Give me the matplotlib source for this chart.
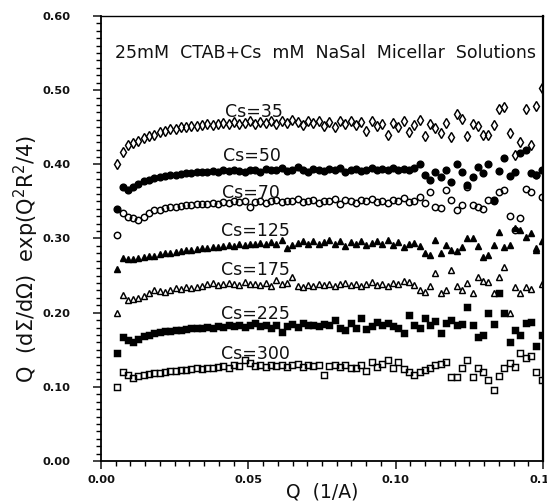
import numpy as np
import matplotlib
matplotlib.use('Agg')
import matplotlib.pyplot as plt
from matplotlib.ticker import MultipleLocator, FormatStrFormatter

# Q grid (1/A)
Q = [0.0055, 0.0073, 0.0091, 0.0109, 0.0127, 0.0145, 0.0163, 0.0181, 0.0199, 0.0217,
     0.0235, 0.0253, 0.0271, 0.0289, 0.0307, 0.0325, 0.0343, 0.0361, 0.0379, 0.0397,
     0.0415, 0.0433, 0.0451, 0.0469, 0.0487, 0.0505, 0.0523, 0.0541, 0.0559, 0.0577,
     0.0595, 0.0613, 0.0631, 0.0649, 0.0667, 0.0685, 0.0703, 0.0721, 0.0739, 0.0757,
     0.0775, 0.0793, 0.0811, 0.0829, 0.0847, 0.0865, 0.0883, 0.0901, 0.0919, 0.0937,
     0.0955, 0.0973, 0.0991, 0.1009, 0.1027, 0.1045, 0.1063, 0.1081, 0.1099, 0.1117,
     0.1135, 0.1153, 0.1171, 0.1189, 0.1207, 0.1225, 0.1243, 0.1261, 0.1279, 0.1297,
     0.1315, 0.1333, 0.1351, 0.1369, 0.1387, 0.1405, 0.1423, 0.1441, 0.1459, 0.1477,
     0.1495]

cs35 = [0.400, 0.416, 0.426, 0.429, 0.432, 0.435, 0.438, 0.440, 0.443, 0.445,
        0.447, 0.448, 0.450, 0.451, 0.452, 0.452, 0.453, 0.454, 0.453, 0.455,
        0.456, 0.455, 0.457, 0.454, 0.456, 0.458, 0.455, 0.457, 0.456, 0.459,
        0.455, 0.458, 0.456, 0.460, 0.457, 0.453, 0.459, 0.456, 0.458, 0.452,
        0.457, 0.450, 0.458, 0.455, 0.459, 0.453, 0.457, 0.445, 0.458, 0.452,
        0.455, 0.440, 0.456, 0.450, 0.458, 0.444, 0.453, 0.460, 0.438, 0.455,
        0.449, 0.442, 0.456, 0.437, 0.468, 0.461, 0.438, 0.455, 0.452, 0.440,
        0.439, 0.453, 0.474, 0.477, 0.442, 0.412, 0.430, 0.474, 0.426, 0.478,
        0.503]

cs50 = [0.340, 0.369, 0.365, 0.370, 0.374, 0.377, 0.379, 0.381, 0.383, 0.384,
        0.385, 0.386, 0.387, 0.388, 0.388, 0.389, 0.390, 0.390, 0.391, 0.390,
        0.392, 0.391, 0.393, 0.391, 0.390, 0.393, 0.392, 0.389, 0.394, 0.393,
        0.392, 0.395, 0.391, 0.393, 0.396, 0.392, 0.390, 0.394, 0.393, 0.391,
        0.394, 0.392, 0.395, 0.390, 0.393, 0.394, 0.391, 0.393, 0.395, 0.392,
        0.394, 0.393, 0.395, 0.392, 0.394, 0.393, 0.395, 0.400, 0.385, 0.379,
        0.390, 0.383, 0.392, 0.376, 0.400, 0.390, 0.372, 0.383, 0.396, 0.388,
        0.400, 0.352, 0.391, 0.408, 0.384, 0.390, 0.415, 0.419, 0.388, 0.386,
        0.392]

cs70 = [0.305, 0.334, 0.329, 0.327, 0.325, 0.329, 0.334, 0.338, 0.339, 0.341,
        0.342, 0.343, 0.344, 0.345, 0.345, 0.346, 0.347, 0.346, 0.348, 0.347,
        0.349, 0.348, 0.350, 0.349, 0.351, 0.343, 0.349, 0.350, 0.348, 0.351,
        0.352, 0.349, 0.351, 0.350, 0.353, 0.349, 0.350, 0.352, 0.348, 0.351,
        0.350, 0.353, 0.346, 0.352, 0.350, 0.348, 0.352, 0.350, 0.353, 0.349,
        0.351, 0.348, 0.352, 0.350, 0.354, 0.349, 0.351, 0.356, 0.348, 0.363,
        0.342, 0.341, 0.365, 0.352, 0.338, 0.345, 0.369, 0.345, 0.343, 0.340,
        0.352, 0.350, 0.363, 0.365, 0.331, 0.311, 0.327, 0.367, 0.363, 0.385,
        0.356]

cs125 = [0.259, 0.274, 0.272, 0.273, 0.274, 0.275, 0.276, 0.277, 0.279, 0.280,
         0.281, 0.282, 0.283, 0.284, 0.285, 0.286, 0.287, 0.287, 0.288, 0.289,
         0.290, 0.291, 0.290, 0.292, 0.291, 0.293, 0.292, 0.294, 0.293, 0.295,
         0.293, 0.298, 0.287, 0.291, 0.294, 0.296, 0.293, 0.297, 0.292, 0.295,
         0.298, 0.293, 0.296, 0.290, 0.295, 0.292, 0.297, 0.291, 0.294, 0.296,
         0.293, 0.298, 0.291, 0.295, 0.289, 0.292, 0.294, 0.290, 0.280, 0.278,
         0.298, 0.280, 0.291, 0.284, 0.283, 0.289, 0.300, 0.300, 0.290, 0.275,
         0.278, 0.291, 0.309, 0.288, 0.291, 0.314, 0.312, 0.302, 0.308, 0.285,
         0.296]

cs175 = [0.200, 0.224, 0.217, 0.219, 0.220, 0.222, 0.226, 0.230, 0.229, 0.228,
         0.231, 0.233, 0.232, 0.234, 0.233, 0.235, 0.236, 0.238, 0.240, 0.237,
         0.238, 0.240, 0.239, 0.237, 0.241, 0.239, 0.238, 0.237, 0.240, 0.236,
         0.244, 0.238, 0.240, 0.248, 0.236, 0.235, 0.237, 0.236, 0.238, 0.237,
         0.239, 0.236, 0.238, 0.240, 0.237, 0.239, 0.236, 0.238, 0.241, 0.237,
         0.239, 0.236, 0.240, 0.238, 0.243, 0.241, 0.237, 0.230, 0.228, 0.236,
         0.253, 0.226, 0.230, 0.257, 0.236, 0.231, 0.240, 0.226, 0.248, 0.243,
         0.242, 0.226, 0.248, 0.261, 0.200, 0.234, 0.227, 0.235, 0.232, 0.287,
         0.238]

cs225 = [0.146, 0.167, 0.163, 0.160, 0.164, 0.168, 0.170, 0.172, 0.174, 0.175,
         0.175, 0.176, 0.177, 0.178, 0.179, 0.179, 0.180, 0.181, 0.180, 0.182,
         0.181, 0.183, 0.182, 0.184, 0.181, 0.183, 0.186, 0.182, 0.184, 0.180,
         0.183, 0.174, 0.182, 0.185, 0.181, 0.186, 0.183, 0.184, 0.182, 0.185,
         0.183, 0.190, 0.180, 0.177, 0.186, 0.180, 0.193, 0.178, 0.182, 0.187,
         0.184, 0.186, 0.182, 0.179, 0.172, 0.197, 0.183, 0.180, 0.193, 0.184,
         0.189, 0.172, 0.186, 0.190, 0.183, 0.185, 0.208, 0.183, 0.167, 0.170,
         0.200, 0.185, 0.226, 0.200, 0.160, 0.177, 0.170, 0.186, 0.188, 0.155,
         0.170]

cs300 = [0.100, 0.120, 0.116, 0.112, 0.114, 0.116, 0.117, 0.118, 0.119, 0.120,
         0.121, 0.122, 0.123, 0.123, 0.124, 0.125, 0.124, 0.126, 0.125, 0.127,
         0.128, 0.126, 0.129, 0.128, 0.136, 0.132, 0.128, 0.130, 0.127, 0.129,
         0.128, 0.130, 0.127, 0.129, 0.131, 0.127, 0.130, 0.128, 0.129, 0.116,
         0.128, 0.130, 0.127, 0.129, 0.125, 0.126, 0.129, 0.122, 0.133, 0.127,
         0.131, 0.136, 0.126, 0.133, 0.124, 0.120, 0.116, 0.120, 0.123, 0.126,
         0.129, 0.131, 0.133, 0.113, 0.113, 0.126, 0.136, 0.113, 0.125, 0.120,
         0.109, 0.096, 0.115, 0.126, 0.132, 0.127, 0.146, 0.139, 0.141, 0.120,
         0.109]

labels = ['Cs=35', 'Cs=50', 'Cs=70', 'Cs=125', 'Cs=175', 'Cs=225', 'Cs=300']
label_x = [0.052, 0.0512, 0.051, 0.0525, 0.0525, 0.0525, 0.0525]
label_y = [0.464, 0.405, 0.354, 0.304, 0.251, 0.192, 0.138]
title = '25mM  CTAB+Cs  mM  NaSal  Micellar  Solutions'

data = [cs35, cs50, cs70, cs125, cs175, cs225, cs300]
styles = [('d', False, 5.2), ('o', True, 4.8), ('o', False, 4.6), ('^', True, 4.6),
          ('^', False, 4.6), ('s', True, 4.2), ('s', False, 4.2)]

fig = plt.figure(figsize=(5.47, 5.04), dpi=100)
ax = fig.add_axes([101/547, 43/504, 442/547, 445/504])

for vals, (m, filled, ms) in zip(data, styles):
    ax.plot(Q, vals, linestyle='none', marker=m, ms=ms,
            mfc='black' if filled else 'none', mec='black', mew=1.05)

for t, x, y in zip(labels, label_x, label_y):
    ax.text(x, y, t, ha='center', va='baseline', fontsize=12.5, color='#111111')

ax.text(0.0047, 0.543, title, ha='left', va='baseline', fontsize=12.5, color='#111111')

ax.set_xlim(0, 0.15)
ax.set_ylim(0, 0.6)
ax.xaxis.set_major_locator(MultipleLocator(0.05))
ax.xaxis.set_minor_locator(MultipleLocator(0.005))
ax.yaxis.set_major_locator(MultipleLocator(0.1))
ax.yaxis.set_minor_locator(MultipleLocator(0.01))
ax.xaxis.set_major_formatter(FormatStrFormatter('%.2f'))
ax.yaxis.set_major_formatter(FormatStrFormatter('%.2f'))
ax.tick_params(axis='both', which='major', direction='out', length=5.5, width=1.1,
               labelsize=8.2, colors='#111111')
ax.tick_params(axis='both', which='minor', direction='out', length=3.5, width=1.0)
ax.tick_params(axis='y', which='major', pad=16.5)
ax.tick_params(axis='x', which='major', pad=4.5)
for lab in ax.get_xticklabels() + ax.get_yticklabels():
    lab.set_fontweight('bold')

for s in ['left', 'bottom']:
    ax.spines[s].set_linewidth(1.3)
ax.spines['top'].set_linewidth(1.0)
ax.spines['right'].set_linewidth(1.6)

fig.text(322/547, 6/504, 'Q  (1/A)', ha='center', va='baseline', fontsize=13.5, color='#111111')
fig.text(26/547, 1 - 259/504, r'Q  (d$\Sigma$/d$\Omega$)  exp(Q$^2$R$^2$/4)',
         rotation=90, ha='center', va='center', fontsize=15, color='#111111')

fig.savefig('out.png', dpi=100)
